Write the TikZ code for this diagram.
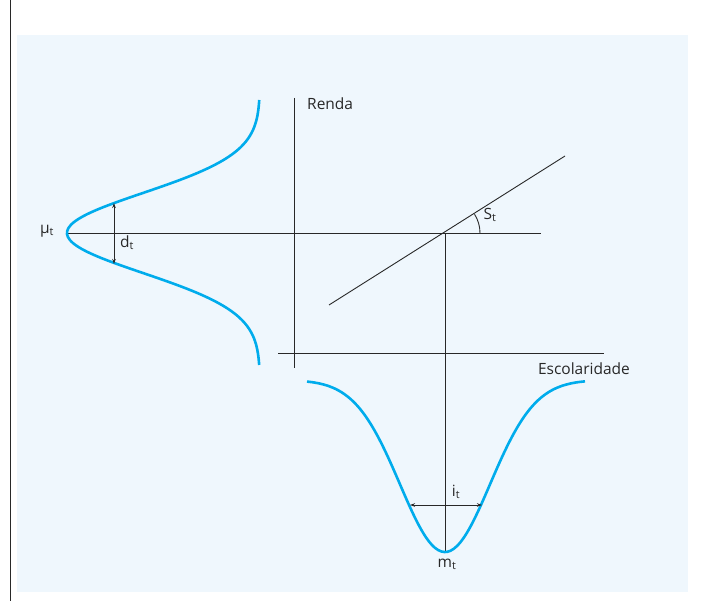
\documentclass[tikz,border=0pt]{standalone}
\usepackage{fontspec}
\setmainfont{Open Sans}
\usetikzlibrary{arrows.meta}
\definecolor{curveblue}{RGB}{0,172,236}
\definecolor{panelblue}{RGB}{239,247,253}
\definecolor{inkgray}{RGB}{40,40,40}
\tikzset{
  axisline/.style={inkgray, line width=0.9pt},
  bellcurve/.style={curveblue, line width=2.6pt},
  spread/.style={inkgray, line width=0.9pt, {Stealth[length=5pt,width=3.5pt]}-{Stealth[length=5pt,width=3.5pt]}},
  lbl/.style={inner sep=1pt, text=inkgray}
}

\begin{document}
\begin{tikzpicture}[x=1pt, y=-1pt, font=\fontsize{15.5}{18}\selectfont]
\useasboundingbox (0,0) rectangle (716,601);
\fill[panelblue] (17,35) rectangle (688,592);
\draw[axisline] (10,0) -- (10,601);
\coordinate (rtop) at (294,98);
\coordinate (rbot) at (294,368);
\coordinate (eleft) at (278,353);
\coordinate (eright) at (604,353);
\coordinate (muleft) at (67,233);
\coordinate (muright) at (541,233);
\coordinate (sleft) at (329,305);
\coordinate (sright) at (565,156);
\coordinate (o) at (445,233);
\coordinate (m) at (445,552);
\coordinate (dtop) at (114,203);
\coordinate (dbot) at (114,264);
\coordinate (ileft) at (410,505);
\coordinate (iright) at (482,505);
\draw[axisline] (rtop) -- (rbot);
\draw[axisline] (eleft) -- (eright);
\draw[axisline] (muleft) -- (muright);
\draw[axisline] (sleft) -- (sright);
\draw[axisline] (o) -- (m);
\draw[axisline] (o) ++(35,0) arc (0:-32.3:35);
\draw[bellcurve] plot[domain=100:365, samples=90, smooth] ({260-193*exp(-((\x-233)/40)^2/2)}, \x);
\draw[bellcurve] plot[domain=307:585, samples=90, smooth] (\x, {380+172*exp(-((\x-445)/45)^2/2)});
\draw[spread] (dtop) -- (dbot);
\draw[spread] (ileft) -- (iright);
\node[lbl, anchor=west] (renda) at (306,104) {Renda};
\node[lbl] (escol) at (584,369) {Escolaridade};
\node[lbl] (mu) at (47,231) {μ\textsubscript{t}};
\node[lbl] (d) at (127,243) {d\textsubscript{t}};
\node[lbl] (s) at (490,215) {S\textsubscript{t}};
\node[lbl] (i) at (456,492) {i\textsubscript{t}};
\node[lbl] (mt) at (447,564) {m\textsubscript{t}};
\end{tikzpicture}
\end{document}
